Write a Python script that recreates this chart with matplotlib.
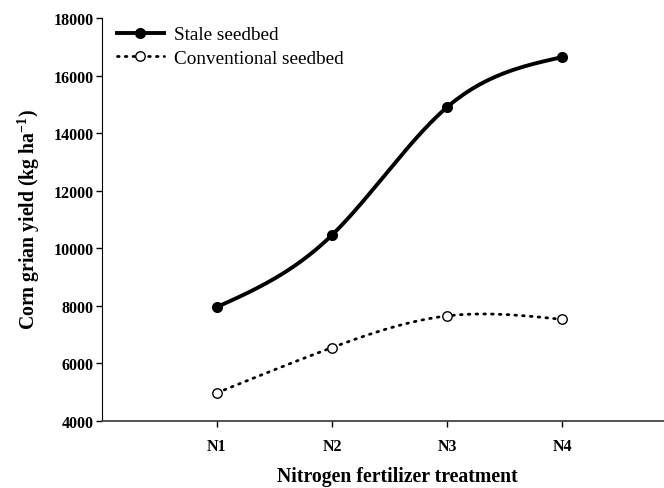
import numpy as np
import matplotlib
matplotlib.use("Agg")
import matplotlib.pyplot as plt

categories = ["N1", "N2", "N3", "N4"]
stale = [7960, 10460, 14900, 16640]
conventional = [4980, 6550, 7650, 7530]

def natural_spline(x, y, n=200):
    x = np.asarray(x, float); y = np.asarray(y, float)
    m = len(x); h = np.diff(x)
    A = np.zeros((m, m)); b = np.zeros(m)
    A[0, 0] = 1; A[-1, -1] = 1
    for i in range(1, m - 1):
        A[i, i - 1] = h[i - 1]; A[i, i] = 2 * (h[i - 1] + h[i]); A[i, i + 1] = h[i]
        b[i] = 3 * ((y[i + 1] - y[i]) / h[i] - (y[i] - y[i - 1]) / h[i - 1])
    c = np.linalg.solve(A, b)
    xs = np.linspace(x[0], x[-1], n); ys = np.empty_like(xs)
    for k, xv in enumerate(xs):
        i = min(np.searchsorted(x, xv, side="right") - 1, m - 2)
        bi = (y[i + 1] - y[i]) / h[i] - h[i] * (2 * c[i] + c[i + 1]) / 3
        di = (c[i + 1] - c[i]) / (3 * h[i])
        t = xv - x[i]
        ys[k] = y[i] + bi * t + c[i] * t ** 2 + di * t ** 3
    return xs, ys

plt.rcParams["font.family"] = ["Liberation Serif", "DejaVu Serif"]
plt.rcParams["mathtext.fontset"] = "custom"
plt.rcParams["mathtext.rm"] = "Liberation Serif"
plt.rcParams["mathtext.bf"] = "Liberation Serif:bold"

W, H = 664, 489
fig = plt.figure(figsize=(W / 100, H / 100), dpi=100)
ax = fig.add_axes([102 / W, 67 / H, 1 - 102 / W, (422 - 19) / H])

x = np.arange(1, len(categories) + 1)
dots = (0, (0.6, 2.2))
xs, ys = natural_spline(x, stale)
ax.plot(xs, ys, color="black", lw=2.8, solid_capstyle="round")
ax.plot(x, stale, "o", color="black", ms=7)
xs2, ys2 = natural_spline(x, conventional)
ax.plot(xs2, ys2, color="black", lw=2.0, linestyle=dots, dash_capstyle="round")
ax.plot(x, conventional, "o", mfc="white", mec="black", mew=1.0, ms=6.8)

h1, = ax.plot([], [], color="black", lw=2.8, marker="o", ms=7)
h2, = ax.plot([], [], color="black", lw=2.0, linestyle=dots, dash_capstyle="round",
              marker="o", mfc="white", mec="black", ms=6.8)
fig.legend([h1, h2], ["Stale seedbed", "Conventional seedbed"], loc="upper left",
           bbox_to_anchor=(117 / W, 1 - 27 / H), frameon=False, fontsize=13.8,
           handlelength=2.45, handletextpad=0.5, borderaxespad=0, borderpad=0,
           labelspacing=0.33)

ax.set_xlim(0, (W - 102) / 115)
ax.set_ylim(4000, 18000)
ax.set_xticks(x)
ax.set_xticklabels(categories)
ax.set_yticks(np.arange(4000, 18001, 2000))
for lab in ax.get_xticklabels() + ax.get_yticklabels():
    lab.set_fontweight("bold")
    lab.set_fontsize(11.5)
ax.tick_params(direction="out", length=4.3, width=1)
ax.tick_params(axis="y", pad=1.5)
ax.tick_params(axis="x", pad=8)
ax.spines["top"].set_visible(False)
ax.spines["right"].set_visible(False)
ax.spines["bottom"].set_color("#444444")
ax.spines["bottom"].set_linewidth(1.3)

fig.text(29 / W, 1 - 220 / H, r"Corn grian yield (kg ha$^{\mathbf{-1}}$)", fontsize=14.2,
         fontweight="bold", rotation=90, ha="center", va="center")
fig.text(397 / W, 1 - 477 / H, "Nitrogen fertilizer treatment", fontsize=14.2,
         fontweight="bold", ha="center", va="center")

fig.savefig("out.png", dpi=100)
